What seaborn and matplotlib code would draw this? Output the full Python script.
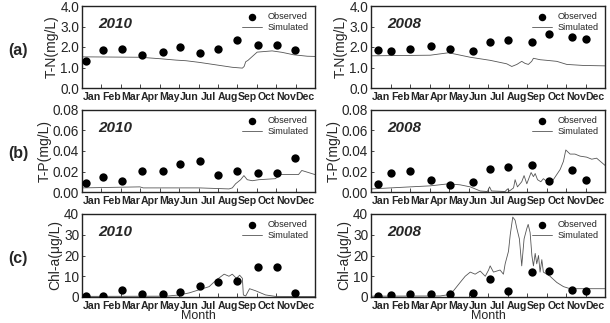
# -*- coding: utf-8 -*-

import matplotlib
matplotlib.use('Agg')
import matplotlib.pyplot as plt
import seaborn as sns
import pandas as pd
import numpy as np

# ---- data (x in months from 1 Jan) ----
months = ['Jan', 'Feb', 'Mar', 'Apr', 'May', 'Jun',
          'Jul', 'Aug', 'Sep', 'Oct', 'Nov', 'Dec']

obs_t_2010 = [0.2, 1.07, 2.06, 3.09, 4.15, 5.04, 6.07, 6.99, 7.98, 9.07, 10.05, 10.97]
obs_t_2008 = [0.36, 1.04, 1.99, 3.1, 4.04, 5.22, 6.1, 7.02, 8.26, 9.15, 10.31, 11.02]

tn_obs_2010 = [1.33, 1.83, 1.88, 1.59, 1.78, 2.01, 1.70, 1.89, 2.33, 2.09, 2.09, 1.85]
tn_obs_2008 = [1.86, 1.81, 1.89, 2.06, 1.91, 1.81, 2.23, 2.35, 2.25, 2.64, 2.48, 2.41]
tp_obs_2010 = [0.0085, 0.0144, 0.0104, 0.0206, 0.0206, 0.0278, 0.0307, 0.0167, 0.0206, 0.0183, 0.0183, 0.0336]
tp_obs_2008 = [0.0081, 0.0181, 0.0201, 0.012, 0.0065, 0.010, 0.0223, 0.0246, 0.0262, 0.011, 0.0214, 0.012]
chl_obs_2010 = [0.5, 0.5, 3.2, 1.6, 1.3, 2.6, 5.3, 7.4, 7.6, 14.5, 14.5, 1.8]
chl_obs_2008 = [0.6, 0.8, 1.4, 1.6, 1.6, 2.1, 8.6, 3.0, 12.0, 12.6, 3.4, 3.0]

tn_sim_t_2010 = [0, 2.98, 4.0, 4.85, 5.36, 6.04, 6.89, 7.74, 8.26, 8.35, 8.43, 8.55, 9.02, 9.79, 10.3, 10.9, 11.6, 12]
tn_sim_2010 = [1.52, 1.50, 1.43, 1.36, 1.33, 1.25, 1.13, 1.01, 0.97, 1.05, 1.28, 1.35, 1.75, 1.81, 1.74, 1.62, 1.55, 1.54]
tn_sim_t_2008 = [0, 3.04, 3.98, 5.09, 6.11, 6.96, 7.22, 7.48, 7.73, 7.9, 8.07, 8.24, 8.33, 8.67, 9.01, 9.53, 10.04, 10.89, 12]
tn_sim_2008 = [1.57, 1.60, 1.72, 1.50, 1.35, 1.18, 1.05, 1.15, 1.30, 1.20, 1.15, 1.30, 1.45, 1.38, 1.35, 1.30, 1.15, 1.10, 1.08]

tp_sim_t_2010 = [0, 2.98, 3.15, 6.04, 7.57, 7.74, 7.91, 8.17, 8.34, 8.51, 8.77, 9.11, 9.96, 10.21, 11.15, 11.32, 11.66, 12]
tp_sim_2010 = [0.004, 0.005, 0.004, 0.004, 0.003, 0.004, 0.008, 0.012, 0.016, 0.012, 0.011, 0.012, 0.013, 0.017, 0.017, 0.021, 0.019, 0.017]
tp_sim_t_2008 = [0, 2.01, 3.04, 3.98, 4.57, 5.09, 5.6, 5.97, 6.08, 6.18, 6.88, 7.0, 7.1, 7.31, 7.39, 7.51,
                 7.73, 7.85, 7.99, 8.21, 8.33, 8.42, 8.54, 8.71, 8.84, 9.1, 9.35, 9.7, 9.87, 9.99,
                 10.21, 10.46, 10.72, 11.06, 11.32, 11.57, 12]
tp_sim_2008 = [0.003, 0.005, 0.006, 0.008, 0.007, 0.005, 0.001, 0.0005, 0.005, 0.001, 0.0005, 0.003, 0.001,
               0.004, 0.012, 0.005, 0.010, 0.016, 0.008, 0.019, 0.015, 0.018, 0.012, 0.010, 0.013, 0.009,
               0.012, 0.022, 0.030, 0.041, 0.037, 0.037, 0.035, 0.034, 0.032, 0.033, 0.026]

chl_sim_t_2010 = [0, 4.34, 5.02, 5.53, 6.04, 6.55, 6.89, 7.32, 7.57, 7.74, 7.95, 8.12, 8.26, 8.31, 8.43,
                  8.63, 8.94, 9.45, 9.96, 12]
chl_sim_2010 = [0.3, 0.4, 1.0, 2.0, 3.5, 5.0, 8.0, 11.0, 10.0, 11.0, 9.0, 10.5, 9.0, 1.0, 0.5,
                4.0, 3.0, 1.0, 0.3, 0.2]
chl_sim_t_2008 = [0, 3.55, 3.89, 4.23, 4.57, 4.83, 5.09, 5.34, 5.6, 5.86, 6.03, 6.11, 6.28, 6.62, 6.79,
                  6.88, 7.05, 7.14, 7.27, 7.39, 7.48, 7.61, 7.73, 7.85, 7.99, 8.06, 8.16, 8.25, 8.33,
                  8.42, 8.5, 8.59, 8.67, 8.76, 8.84, 9.18, 9.53, 9.87, 10.21, 12]
chl_sim_2008 = [0.4, 0.5, 1.0, 3.0, 7.0, 10.0, 12.0, 11.0, 12.5, 10.0, 13.0, 15.0, 12.0, 13.0, 11.0,
                16.0, 22.0, 30.0, 38.5, 37.0, 33.0, 28.0, 15.0, 28.0, 33.0, 35.0, 31.0, 20.0, 15.0,
                21.0, 16.0, 20.0, 12.0, 18.0, 12.0, 10.0, 7.0, 5.0, 4.0, 4.0]

ylabels = ['T-N(mg/L)', 'T-P(mg/L)', 'Chl-a(\u03bcg/L)']
row_tags = ['(a)', '(b)', '(c)']
ylims = [(0, 4.0), (0, 0.08), (0, 40)]
yticks = [[0, 1, 2, 3, 4], [0, 0.02, 0.04, 0.06, 0.08], [0, 10, 20, 30, 40]]
yfmt = ['{:.1f}', '{:.2f}', '{:.0f}']

panels = [
    [(2010, obs_t_2010, tn_obs_2010, tn_sim_t_2010, tn_sim_2010),
     (2008, obs_t_2008, tn_obs_2008, tn_sim_t_2008, tn_sim_2008)],
    [(2010, obs_t_2010, tp_obs_2010, tp_sim_t_2010, tp_sim_2010),
     (2008, obs_t_2008, tp_obs_2008, tp_sim_t_2008, tp_sim_2008)],
    [(2010, obs_t_2010, chl_obs_2010, chl_sim_t_2010, chl_sim_2010),
     (2008, obs_t_2008, chl_obs_2008, chl_sim_t_2008, chl_sim_2008)],
]

sns.set_style("ticks")
plt.rcParams['font.family'] = ['Liberation Sans', 'DejaVu Sans']

W, H = 610, 323
fig = plt.figure(figsize=(W / 100, H / 100), dpi=100)

col_x = [(82, 315), (371, 605)]
row_y = [(6, 88), (110, 192), (214, 297)]

for r in range(3):
    for c in range(2):
        x0, x1 = col_x[c]
        y0, y1 = row_y[r]
        ax = fig.add_axes([x0 / W, 1 - y1 / H, (x1 - x0) / W, (y1 - y0) / H])
        year, ot, ov, st, sv = panels[r][c]

        sim = pd.DataFrame({'t': st, 'v': sv})
        obs = pd.DataFrame({'t': ot, 'v': ov})
        sns.lineplot(data=sim, x='t', y='v', ax=ax, color='#555555', lw=0.6,
                     label='Simulated', estimator=None, sort=False)
        sns.scatterplot(data=obs, x='t', y='v', ax=ax, color='black', s=36,
                        edgecolor='black', linewidth=0, label='Observed', zorder=3)

        ax.set_xlim(0, 12)
        ax.set_ylim(*ylims[r])
        ax.set_xticks(range(13))
        ax.set_xticklabels([])
        ax.set_xticks(np.arange(12) + 0.5, minor=True)
        ax.set_xticklabels(months, minor=True, fontsize=7.6, fontweight='bold')
        ax.tick_params(axis='x', which='major', direction='in', length=3, width=0.6)
        ax.tick_params(axis='x', which='minor', length=0, pad=3)
        ax.set_yticks(yticks[r])
        ax.set_yticklabels([yfmt[r].format(v) for v in yticks[r]], fontsize=9.8)
        ax.tick_params(axis='y', direction='in', length=2, width=0.6, pad=2)
        for sp in ax.spines.values():
            sp.set_linewidth(1.0)
            sp.set_color('#222222')

        ax.set_ylabel(ylabels[r], fontsize=10, labelpad=1)
        if r == 2:
            ax.set_xlabel('Month', fontsize=9, labelpad=-1)
        else:
            ax.set_xlabel('')

        ax.text(0.07, 0.78, str(year), transform=ax.transAxes, fontsize=11,
                fontweight='bold', style='italic', ha='left', va='center')

        h, l = ax.get_legend_handles_labels()
        order = [l.index('Observed'), l.index('Simulated')]
        ax.legend([h[i] for i in order], [l[i] for i in order], loc='upper right',
                  frameon=False, fontsize=6.6, handlelength=2.2, handletextpad=0.6,
                  labelspacing=0.2, borderaxespad=0.3, markerscale=0.9)

    fig.text(18 / W, 1 - ((row_y[r][0] + row_y[r][1]) / 2 + 3) / H, row_tags[r],
             fontsize=11.5, fontweight='bold', ha='center', va='center')

fig.savefig('out.png', dpi=100)
